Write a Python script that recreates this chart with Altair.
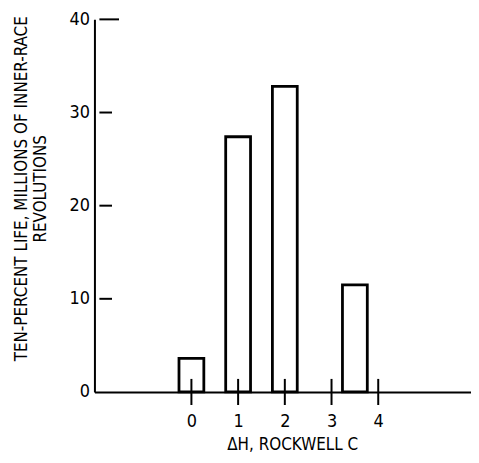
import altair as alt
import pandas as pd

# Data
dh_values = [0, 1, 2, 3.5]
life_values = [3.6, 27.4, 32.8, 11.5]
x_tick_values = [0, 1, 2, 3, 4]
y_tick_values = [10, 20, 30, 40]
y_tick_len = [0.27, 0.27, 0.27, 0.42]

FONT = "Liberation Sans Narrow, DejaVu Sans Condensed, sans-serif"

bars_df = pd.DataFrame({"dh": dh_values, "life": life_values})
xt_df = pd.DataFrame({"x": x_tick_values, "lo": [-1.4] * 5, "hi": [1.4] * 5})
yt_df = pd.DataFrame({"y": y_tick_values,
                      "x0": [-1.97] * 4,
                      "x1": [-1.97 + l for l in y_tick_len]})

xs = alt.Scale(domain=[-1.97, 5.88], nice=False, zero=False)
ys = alt.Scale(domain=[0, 40], nice=False)

bars = alt.Chart(bars_df).mark_bar(
    size=25, fill="white", stroke="black", strokeWidth=2.8
).encode(
    x=alt.X("dh:Q", scale=xs, axis=alt.Axis(
        values=x_tick_values, ticks=False, grid=False,
        domainColor="black", domainWidth=2,
        labelFont=FONT, labelFontSize=18, labelColor="black", labelPadding=21,
        title="ΔH, ROCKWELL C", titleFont=FONT, titleFontSize=17,
        titleFontWeight="normal", titleColor="black", titlePadding=6,
        titleX=199)),
    y=alt.Y("life:Q", scale=ys, axis=alt.Axis(
        values=[0, 10, 20, 30, 40], ticks=False, grid=False,
        domainColor="black", domainWidth=2,
        labelFont=FONT, labelFontSize=18, labelColor="black", labelPadding=5,
        title=["TEN-PERCENT LIFE, MILLIONS OF INNER-RACE", "REVOLUTIONS"],
        titleFont=FONT, titleFontSize=17, titleFontWeight="normal",
        titleColor="black", titlePadding=20, titleY=170)),
)

xticks = alt.Chart(xt_df).mark_rule(color="black", strokeWidth=2).encode(
    x=alt.X("x:Q", scale=xs), y=alt.Y("lo:Q", scale=ys), y2="hi:Q")

yticks = alt.Chart(yt_df).mark_rule(color="black", strokeWidth=2).encode(
    x=alt.X("x0:Q", scale=xs), x2="x1:Q", y=alt.Y("y:Q", scale=ys))

chart = alt.layer(bars, xticks, yticks).properties(
    width=379, height=375,
    autosize=alt.AutoSizeParams(type="none"),
    padding={"left": 87, "top": 10, "right": 0, "bottom": 62},
).configure_view(stroke=None)

chart.save("out.html", embed_options={"renderer": "svg", "actions": False})
